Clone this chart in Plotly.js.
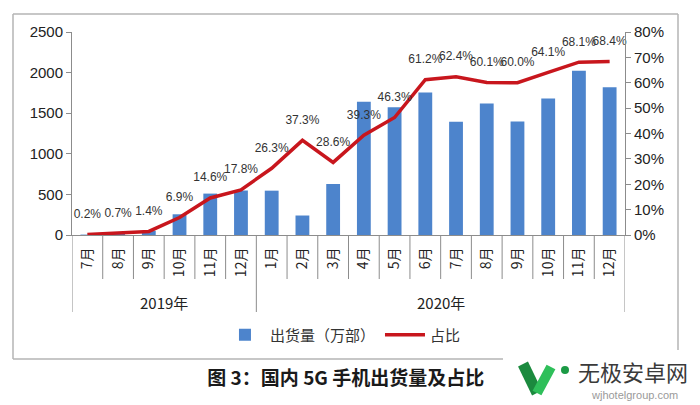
<!DOCTYPE html>
<html><head><meta charset="utf-8">
<script src="https://cdn.plot.ly/plotly-3.0.1.min.js"></script>
<style>body{margin:0;background:#fff}#chart{width:700px;height:405px}</style>
</head><body><div id="chart"></div>
<script>
const years = ['2019年','2019年','2019年','2019年','2019年','2019年',
  '2020年','2020年','2020年','2020年','2020年','2020年','2020年','2020年','2020年','2020年','2020年','2020年'];
const months = ['7月','8月','9月','10月','11月','12月',
  '1月','2月','3月','4月','5月','6月','7月','8月','9月','10月','11月','12月'];
const shipments = [5, 20, 50, 255, 510, 548, 546, 240, 628, 1642, 1572, 1755, 1395, 1620, 1398, 1682, 2022, 1820];
const share = [0.2, 0.7, 1.4, 6.9, 14.6, 17.8, 26.3, 37.3, 28.6, 39.3, 46.3, 61.2, 62.4, 60.1, 60.0, 64.1, 68.1, 68.4];
const shareLabels = share.map(v => v.toFixed(1) + '%');

const ids = years.map((y, i) => y + '-' + months[i]);

const L = 72, R = 625, T = 32, B = 235;
const px = x => (x - L) / (R - L);
const py = y => (B - y) / (B - T);
const font = 'Liberation Sans, Arial, sans-serif';
const cjk = 'Noto Sans CJK SC, sans-serif';
const axisColor = '#8c8c8c';

const frameColor = '#b4b4b4';
const shapes = [
  {type:'line', xref:'paper', yref:'paper', x0:px(13), x1:px(678), y0:py(14), y1:py(14), line:{color:frameColor, width:1.5}},
  {type:'line', xref:'paper', yref:'paper', x0:px(13), x1:px(13), y0:py(14), y1:py(359), line:{color:frameColor, width:1.5}},
  {type:'line', xref:'paper', yref:'paper', x0:px(678), x1:px(678), y0:py(14), y1:py(350), line:{color:frameColor, width:1.5}},
  {type:'line', xref:'paper', yref:'paper', x0:px(13), x1:px(503), y0:py(359), y1:py(359), line:{color:frameColor, width:1.5}},
  // logo
  {type:'path', xref:'paper', yref:'paper', path:`M ${px(523)} ${py(364)} L ${px(537)} ${py(393)}`, line:{color:'#1b8a3e', width:11}},
  {type:'path', xref:'paper', yref:'paper', path:`M ${px(537)} ${py(393)} L ${px(551)} ${py(367)}`, line:{color:'#2fbf5a', width:10}},
  {type:'circle', xref:'paper', yref:'paper', x0:px(561), x1:px(569), y0:py(366), y1:py(374), fillcolor:'#1b9a45', line:{width:0}}
];

// category boundary lines (month cells and year dividers)
for (let i = 0; i <= ids.length; i++) {
  const isYearEdge = i === 0 || i === ids.length || years[i] !== years[i - 1];
  shapes.push({type:'line', xref:'x', yref:'paper', x0:i - 0.5, x1:i - 0.5, y0:0, y1:py(isYearEdge ? 312 : 279),
    line:{color:axisColor, width:1}});
}

// year group labels
const yearNames = [...new Set(years)];
const annotations = yearNames.map(yn => {
  const idx = years.map((y, i) => y === yn ? i : -1).filter(i => i >= 0);
  return {xref:'x', yref:'paper', x:(idx[0] + idx[idx.length - 1]) / 2, y:py(302), text:yn, showarrow:false,
    font:{family:cjk, size:15, color:'#222'}, xanchor:'center', yanchor:'middle'};
});
annotations.push(
  {xref:'paper', yref:'paper', x:px(633), y:py(371), text:'无极安卓网', showarrow:false,
   font:{family:cjk, size:22, color:'#3a3a3a'}, xanchor:'center', yanchor:'middle'},
  {xref:'paper', yref:'paper', x:px(634), y:py(395), text:'wjhotelgroup.com', showarrow:false,
   font:{family:font, size:11, color:'#9a9a9a'}, xanchor:'center', yanchor:'middle'}
);

const traces = [
  {type:'bar', name:'出货量（万部）', x:ids, y:shipments,
   marker:{color:'#4d84cc', line:{width:0}}, yaxis:'y'},
  {type:'scatter', mode:'lines+markers+text', name:'占比', x:ids, y:share, yaxis:'y2',
   text:shareLabels, textposition:'top center',
   textfont:{family:font, size:12, color:'#333'},
   line:{color:'#c8161d', width:3.5},
   marker:{size:20, color:'rgba(0,0,0,0)', line:{width:0}}, cliponaxis:false}
];

const layout = {
  width:700, height:405,
  margin:{l:L, r:700-R, t:T, b:405-B},
  paper_bgcolor:'#fff', plot_bgcolor:'rgba(0,0,0,0)',
  showlegend:true,
  bargap:0.55,
  font:{family:font, color:'#222'},
  title:{text:'<b>图 3：国内 5G 手机出货量及占比</b>', x:0.494, xanchor:'center', y:1-378/405, yanchor:'middle',
    font:{family:cjk, size:19, color:'#1a1a1a'}},
  legend:{orientation:'h', x:0.49, xanchor:'center', y:py(335), yanchor:'middle',
    font:{family:cjk, size:15, color:'#333'}, itemwidth:40, traceorder:'normal'},
  xaxis:{type:'category', tickvals:ids, ticktext:months, range:[-0.5, ids.length - 0.5], autorange:false,
    showline:true, linecolor:axisColor, linewidth:1,
    ticks:'', tickangle:-90, ticklabelstandoff:6,
    tickfont:{family:cjk, size:14, color:'#222'}, showgrid:false, zeroline:false},
  yaxis:{range:[0,2500], dtick:500, showgrid:false, zeroline:false, showline:true,
    linecolor:axisColor, ticks:'outside', ticklen:5, tickcolor:axisColor,
    tickfont:{family:font, size:15, color:'#222'}},
  yaxis2:{range:[0,80], dtick:10, ticksuffix:'%', overlaying:'y', side:'right',
    showgrid:false, zeroline:false, showline:true, linecolor:axisColor, ticks:'outside', ticklen:5,
    tickcolor:axisColor, tickfont:{family:font, size:15, color:'#222'}},
  shapes: shapes,
  annotations: annotations
};

Plotly.newPlot('chart', traces, layout, {displayModeBar:false, staticPlot:true});
</script></body></html>
